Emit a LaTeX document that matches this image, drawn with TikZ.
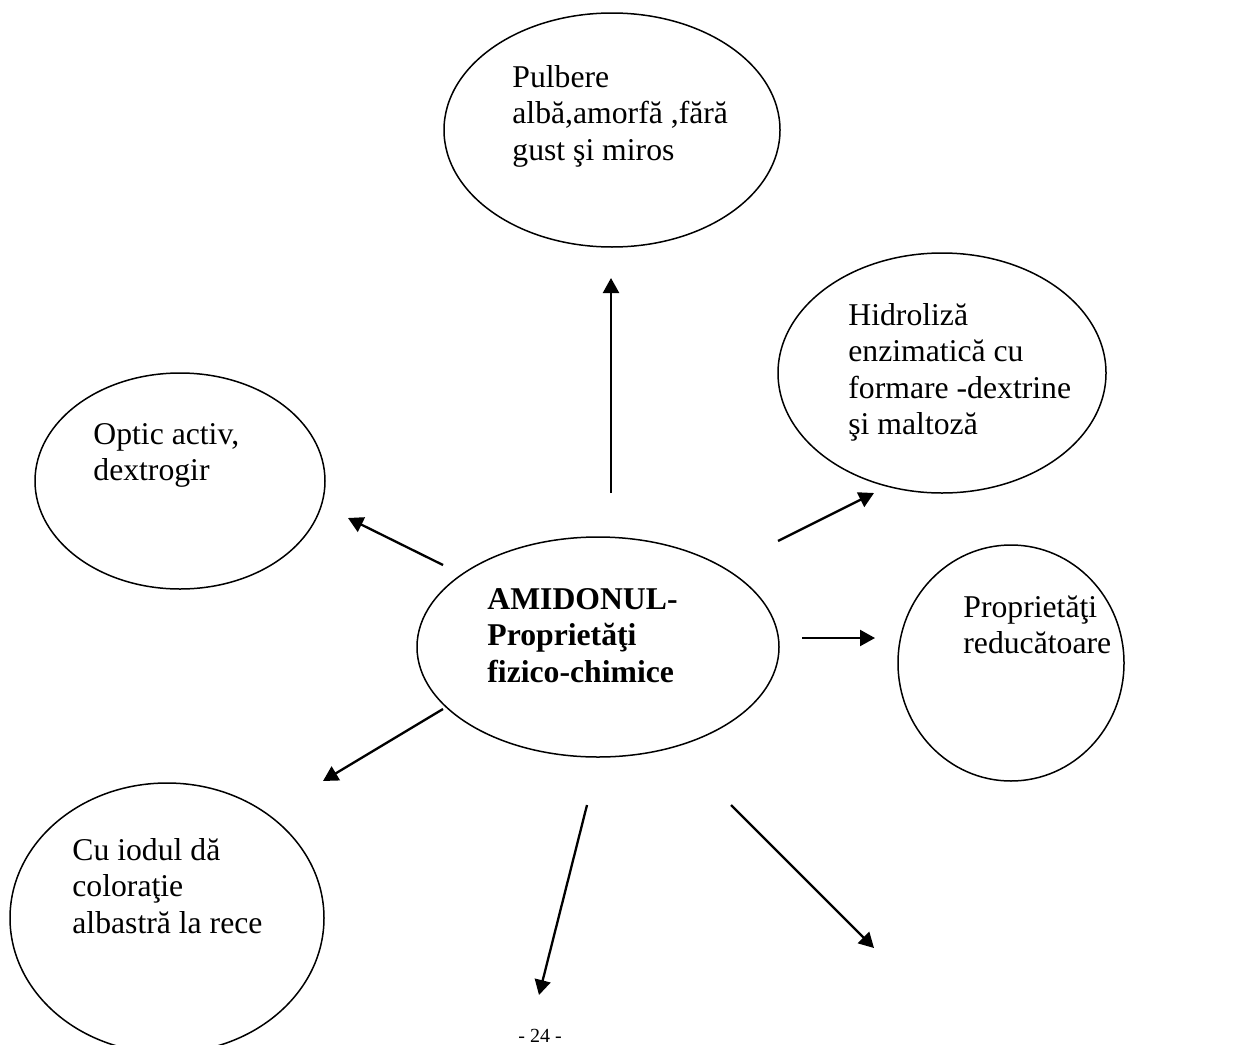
\documentclass[tikz,border=0pt]{standalone}
\usepackage{fontspec}
\setmainfont{Liberation Serif}
\usetikzlibrary{arrows.meta,shapes.geometric}
\begin{document}
\begin{tikzpicture}[x=0.5pt,y=-0.5pt,
  bubble/.style={draw, ellipse, line width=0.75pt, inner sep=0pt},
  caption/.style={anchor=north west, inner sep=0pt, align=left,
    font=\fontsize{15.85}{18.25}\selectfont},
  link/.style={-{Triangle[length=7.5pt,width=8pt]}, line width=1.15pt}]
\useasboundingbox (0,0) rectangle (1241,1044);
\clip (0,0) rectangle (1241,1044);

% ellipses (minimum size in pt = radius in px)
\node[bubble, minimum width=168pt, minimum height=117pt] (powder) at (612,130) {};
\node[bubble, minimum width=164pt, minimum height=120pt] (hydro)  at (942,373) {};
\node[bubble, minimum width=145pt, minimum height=108pt] (optic)  at (180,481) {};
\node[bubble, minimum width=181pt, minimum height=110pt] (starch) at (598,647) {};
\node[bubble, minimum width=113pt, minimum height=118pt] (reduc)  at (1011,663) {};
\node[bubble, minimum width=157pt, minimum height=135pt] (iodine) at (167,918) {};

% texts
\node[caption] (powdertxt) at (512,65) {Pulbere\\albă,amorfă ,fără\\gust şi miros};
\node[caption] (hydrotxt) at (848,303) {Hidroliză\\enzimatică cu\\formare -dextrine\\şi maltoză};
\node[caption] (optictxt) at (93,423) {Optic activ,\\dextrogir};
\node[caption, font=\fontsize{15.85}{18.25}\selectfont\bfseries] (starchtxt) at (487,588)
  {AMIDONUL-\\Proprietăţi\\fizico-chimice};
\node[caption] (reductxt) at (963,595) {Proprietăţi\\reducătoare};
\node[caption] (iodinetxt) at (72,838) {Cu iodul dă\\coloraţie\\albastră la rece};

\node[anchor=base, inner sep=0pt, font=\fontsize{10}{12}\selectfont] (page) at (540,1042) {- 24 -};

% arrow end points
\coordinate (upA) at (611,493);   \coordinate (upB) at (611,278);
\coordinate (neA) at (778,541);   \coordinate (neB) at (874,493);
\coordinate (nwA) at (443,565);   \coordinate (nwB) at (348,518);
\coordinate (eA)  at (802,638);   \coordinate (eB)  at (875,638);
\coordinate (swA) at (443,709);   \coordinate (swB) at (323,781);
\coordinate (sA)  at (587,805);   \coordinate (sB)  at (539,995);
\coordinate (seA) at (731,805);   \coordinate (seB) at (874,948);

\draw[link] (upA) -- (upB);
\draw[link] (neA) -- (neB);
\draw[link] (nwA) -- (nwB);
\draw[link] (eA) -- (eB);
\draw[link] (swA) -- (swB);
\draw[link] (sA) -- (sB);
\draw[link] (seA) -- (seB);
\end{tikzpicture}
\end{document}
